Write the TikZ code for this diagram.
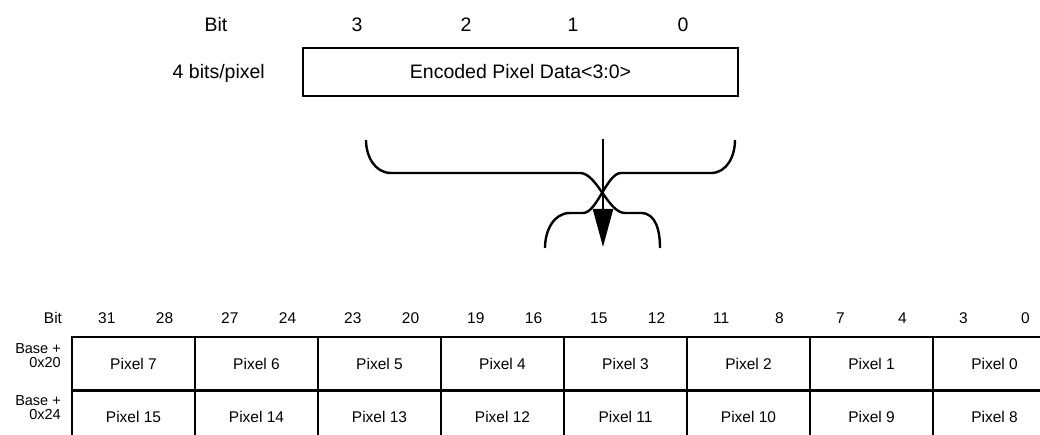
\documentclass[tikz,border=0pt]{standalone}
\usepackage{fontspec}
\setmainfont{Liberation Sans}
\usetikzlibrary{arrows.meta}

\begin{document}
\begin{tikzpicture}[x=1pt, y=-1pt, line width=2.4pt,
  toplbl/.style={font=\fontsize{19.5}{22}\selectfont, inner sep=0pt},
  tbllbl/.style={font=\fontsize{15.5}{18}\selectfont, inner sep=0pt},
  baselbl/.style={font=\fontsize{14.5}{14}\selectfont, align=right, anchor=east, inner sep=0pt},
  cell/.style={draw, font=\fontsize{15.5}{18}\selectfont, minimum width=123pt, minimum height=53.5pt, inner sep=0pt, outer sep=0pt},
  databox/.style={draw, font=\fontsize{19.5}{22}\selectfont, minimum width=435pt, minimum height=48pt, inner sep=0pt}]
  \useasboundingbox (0,0) rectangle (1040,435);
  \clip (0,0) rectangle (1040,435);
  % top register
  \node[toplbl] (bittop) at (216,25) {Bit};
  \foreach \b/\x in {3/357, 2/466, 1/573, 0/683}
    \node[toplbl] (top\b) at (\x,25) {\b};
  \node[databox] (data) at (520.5,72) {Encoded Pixel Data<3:0>};
  \node[toplbl, anchor=east] (bpp) at (266,73) {4 bits/pixel};
  % braces
  \draw (366,140) to[out=-90,in=180] (391,173) -- (580,173)
    .. controls (597,173) and (608,213) .. (625,213) -- (641,213)
    to[out=0,in=90] (660,248);
  \draw (735,140) to[out=-90,in=0] (711,173) -- (621,173)
    .. controls (607,173) and (597,213) .. (583,213) -- (570,213)
    to[out=180,in=90] (545,248);
  % arrow
  \coordinate (src) at (603,139);
  \coordinate (dst) at (603,247);
  \draw[-{Triangle[length=38pt,width=20pt]}] (src) -- (dst);
  % 32-bit words
  \node[tbllbl] (bitbot) at (53,318) {Bit};
  \foreach \i in {0,...,7} {
    \pgfmathtruncatemacro{\hi}{31-4*\i}
    \pgfmathtruncatemacro{\lo}{28-4*\i}
    \pgfmathtruncatemacro{\pa}{7-\i}
    \pgfmathtruncatemacro{\pb}{15-\i}
    \node[cell] (ra\i) at (133.5+123*\i,363.5) {Pixel \pa};
    \node[cell] (rb\i) at (133.5+123*\i,417.25) {Pixel \pb};
    \node[tbllbl, anchor=west] (hi\i) at (97+123*\i,318) {\hi};
    \node[tbllbl] (lo\i) at (164.5+123*\i,318) {\lo};
  }
  \node[baselbl] (base0) at (62,356) {Base +\\0x20};
  \node[baselbl] (base1) at (62,408) {Base +\\0x24};
\end{tikzpicture}
\end{document}
